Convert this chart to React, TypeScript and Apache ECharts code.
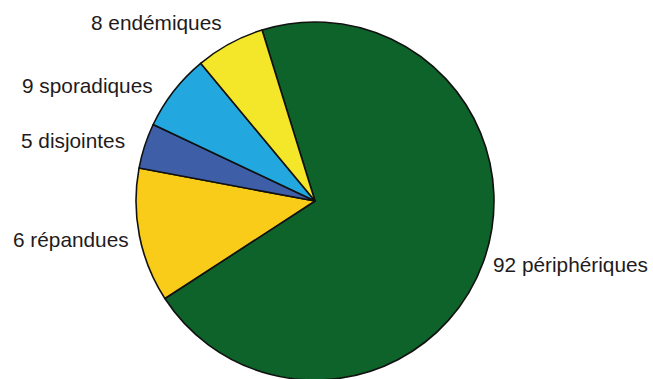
import React, { useEffect, useRef } from "react";
import * as echarts from "echarts";

// Categories, in clockwise order starting with the large slice
const categories = ["périphériques", "répandues", "disjointes", "sporadiques", "endémiques"];
// Counts printed in the labels
const counts = [92, 6, 5, 9, 8];
// Slice sizes as drawn in the picture (degrees of arc)
const sliceDegrees = [254.2, 43.6, 14.7, 25.0, 22.5];
// Slice colours
const sliceColors = ["#0d6329", "#facc1a", "#3e5ea8", "#22a8de", "#f4e628"];
// Label anchors (left edge x, vertical middle y)
const labelAnchors: [number, number][] = [
  [493, 264],
  [13, 239],
  [21, 140],
  [22, 85],
  [91, 22],
];

export default function App() {
  const ref = useRef<HTMLDivElement>(null);
  useEffect(() => {
    if (!ref.current) return;
    const chart = echarts.init(ref.current, undefined, { renderer: "svg" });
    chart.setOption({
      animation: false,
      backgroundColor: "#ffffff",
      series: [
        {
          type: "pie",
          center: [315, 201],
          radius: 179,
          startAngle: 107.2,
          clockwise: true,
          avoidLabelOverlap: false,
          itemStyle: { borderColor: "#111111", borderWidth: 1.6 },
          label: {
            show: true,
            position: "outside",
            fontFamily: "Liberation Sans, Arial, sans-serif",
            fontSize: 20.8,
            color: "#1f1b1c",
            formatter: (p: any) => `${counts[p.dataIndex]} ${categories[p.dataIndex]}`,
          },
          labelLine: { show: false },
          labelLayout: (params: any) => {
            const a = labelAnchors[params.dataIndex];
            return { x: a[0], y: a[1], align: "left", verticalAlign: "middle" };
          },
          emphasis: { disabled: true },
          data: categories.map((c, i) => ({
            name: c,
            value: sliceDegrees[i],
            itemStyle: { color: sliceColors[i] },
          })),
        },
      ],
    });
    return () => chart.dispose();
  }, []);
  return (
    <div
      ref={ref}
      style={{ position: "fixed", left: 0, top: 0, width: 653, height: 379 }}
    />
  );
}
